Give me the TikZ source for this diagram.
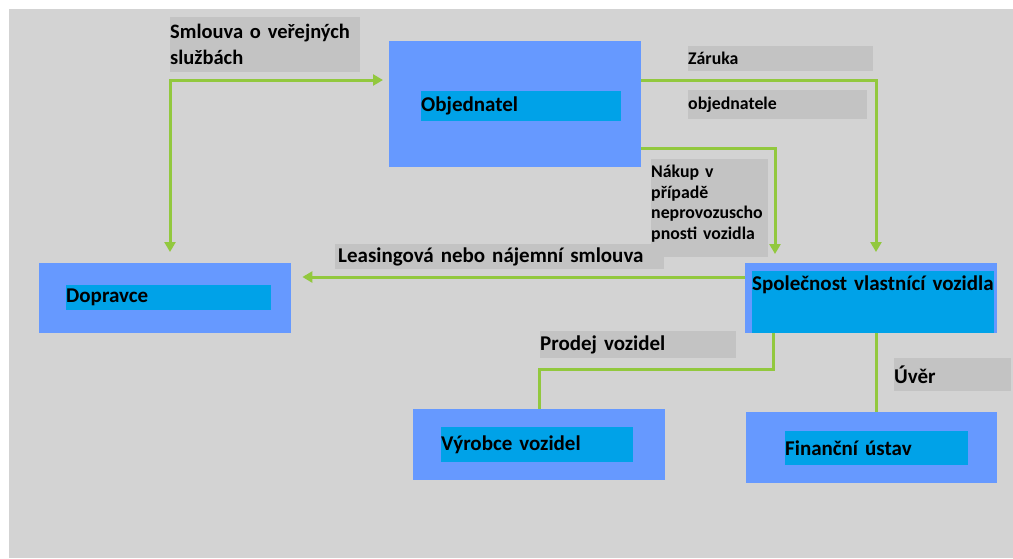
\documentclass[tikz,border=0pt]{standalone}
\usepackage{fontspec}
\setmainfont{Carlito}
\usetikzlibrary{arrows.meta}

\definecolor{bggray}{RGB}{211,211,211}
\definecolor{labelgray}{RGB}{195,195,195}
\definecolor{outerblue}{RGB}{102,153,255}
\definecolor{innercyan}{RGB}{0,162,232}
\definecolor{linkgreen}{RGB}{146,200,62}

\begin{document}
\begin{tikzpicture}[x=1pt, y=-1pt, >={Triangle[width=11pt, length=10pt]}]

% Styles
\tikzset{
  outerbox/.style={fill=outerblue, anchor=north west, inner sep=0pt},
  innerbox/.style={fill=innercyan, anchor=north west, inner sep=0pt, align=left,
    font=\fontsize{21}{25}\selectfont\bfseries},
  labelbox/.style={fill=labelgray, anchor=north west, inner sep=0pt, align=left,
    font=\fontsize{21}{25}\selectfont\bfseries},
  smalllabel/.style={labelbox, font=\fontsize{17.8}{20.7}\selectfont\bfseries},
  link/.style={line width=3pt, linkgreen}
}

% Canvas
\useasboundingbox (0,0) rectangle (1013,558);
\fill[bggray] (9,9) rectangle (1013,558);

% Parties (outer boxes)
\node[outerbox, minimum width=252pt, minimum height=126pt] (objednatel) at (389,41) {};
\node[outerbox, minimum width=252pt, minimum height=70pt] (dopravce) at (39,263) {};
\node[outerbox, minimum width=252pt, minimum height=70pt] (spolecnost) at (745,263) {};
\node[outerbox, minimum width=252pt, minimum height=71pt] (vyrobce) at (413,409) {};
\node[outerbox, minimum width=251pt, minimum height=71pt] (financni) at (746,412) {};

% Names (inner boxes)
\node[innerbox, text width=200pt, minimum height=30pt] (objednateltext) at (421,91) {Objednatel};
\node[innerbox, text width=205pt, minimum height=25pt] (dopravcetext) at (66,285) {Dopravce};
\node[innerbox, text width=242pt, text height=19pt, text depth=43pt] (spolecnosttext) at (752,271)
  {Společnost vlastnící vozidla};
\node[innerbox, text width=192pt, minimum height=35pt] (vyrobcetext) at (441,427) {Výrobce vozidel};
\node[innerbox, text width=183pt, minimum height=34pt] (financnitext) at (785,431) {Finanční ústav};

% Relation labels
\node[labelbox, text width=190pt, minimum height=55pt,
  font=\fontsize{20.5}{26}\selectfont\bfseries] (smlouva) at (170,17) {Smlouva o veřejných\\službách};
\node[smalllabel, text width=185pt, minimum height=25pt] (zaruka) at (688,46) {Záruka};
\node[smalllabel, text width=179pt, minimum height=29pt] (zarukaobj) at (688,90) {objednatele};
\node[labelbox, text width=329pt, minimum height=25pt] (leasing) at (335,244)
  {\hspace{3pt}Leasingová nebo nájemní smlouva};
\node[smalllabel, text width=117pt, minimum height=98pt] (nakup) at (651,159)
  {Nákup v\\případě\\neprovozuscho\\pnosti vozidla\rule[-12pt]{0pt}{0pt}};
\node[labelbox, text width=196pt, minimum height=27pt] (prodej) at (540,331) {Prodej vozidel};
\node[labelbox, text width=117pt, minimum height=33pt] (uver) at (894,358) {Úvěr};

% Turning points
\coordinate (smlturn) at (170,80);
\coordinate (zarturn) at (876,80);
\coordinate (nakturn) at (775,148);
\coordinate (leasestart) at (745,277);
\coordinate (prodturn) at (773,369);

% Connectors
\draw[link, <->, shorten <=11pt, shorten >=6pt]
  (smlturn |- dopravce.north) -- (smlturn) -- (smlturn -| objednatel.west);
\draw[link, ->, shorten >=11pt]
  (zarturn -| objednatel.east) -- (zarturn) -- (zarturn |- spolecnost.north);
\draw[link, ->, shorten >=9pt]
  (nakturn -| objednatel.east) -- (nakturn) -- (nakturn |- spolecnost.north);
\draw[link, ->, shorten >=11pt] (leasestart) -- (leasestart -| dopravce.east);
\draw[link] (prodturn |- spolecnost.south) -- (prodturn) -| (vyrobce.north);
\draw[link] (zarturn |- spolecnost.south) -- (zarturn |- financni.north);

\end{tikzpicture}
\end{document}
